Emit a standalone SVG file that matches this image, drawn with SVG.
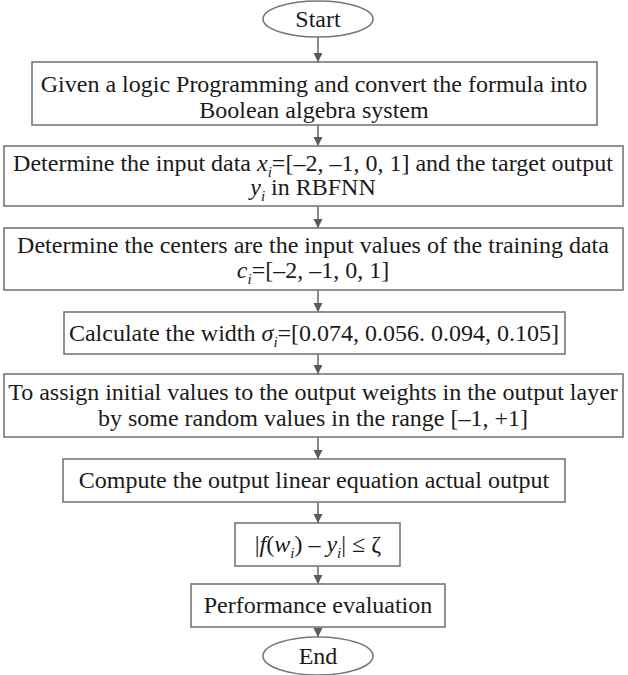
<svg xmlns="http://www.w3.org/2000/svg" width="628" height="675" viewBox="0 0 628 675">
<defs>
<marker id="ah" markerWidth="10" markerHeight="10" refX="9" refY="5" orient="auto" markerUnits="userSpaceOnUse">
<path d="M0,0.5 L9,5 L0,9.5 Z" fill="#5a5a5a"/>
</marker>
<style>
.box{fill:#fff;stroke:#777;stroke-width:1.6}
.t{font-size:24px;fill:#1a1a1a;text-anchor:middle}
.it{font-style:italic}
.sub{font-size:15px;font-style:italic}
.edge{stroke:#666;stroke-width:1.5;fill:none;marker-end:url(#ah)}
</style>
</defs>
<rect width="628" height="675" fill="#fff"/>
<g id="connectors">
<line class="edge" x1="318" y1="37" x2="318" y2="62"/>
<line class="edge" x1="318" y1="125" x2="318" y2="146"/>
<line class="edge" x1="318" y1="206" x2="318" y2="228"/>
<line class="edge" x1="318" y1="290" x2="318" y2="312"/>
<line class="edge" x1="318" y1="354" x2="318" y2="374"/>
<line class="edge" x1="318" y1="437" x2="318" y2="459"/>
<line class="edge" x1="318" y1="502" x2="318" y2="523"/>
<line class="edge" x1="318" y1="566" x2="318" y2="584"/>
<line class="edge" x1="318" y1="627" x2="318" y2="637"/>
</g>
<g font-family="'Liberation Serif', 'DejaVu Serif', serif">
<g id="start">
<ellipse class="box" cx="318" cy="19" rx="55" ry="18"/>
<text class="t" x="318" y="27">Start</text>
</g>
<g id="step1">
<rect class="box" x="32" y="62" width="565" height="63"/>
<text class="t" x="314" y="92">Given a logic Programming and convert the formula into</text>
<text class="t" x="314" y="118">Boolean algebra system</text>
</g>
<g id="step2">
<rect class="box" x="4" y="146" width="619" height="60"/>
<text class="t" x="313" y="171">Determine the input data <tspan class="it">x</tspan><tspan class="sub" dy="6">i</tspan><tspan dy="-6">=[–2, –1, 0, 1] and the target output</tspan></text>
<text class="t" x="313" y="195"><tspan class="it">y</tspan><tspan class="sub" dy="6">i</tspan><tspan dy="-6"> in RBFNN</tspan></text>
</g>
<g id="step3">
<rect class="box" x="4" y="228" width="619" height="62"/>
<text class="t" x="313" y="253">Determine the centers are the input values of the training data</text>
<text class="t" x="313" y="278"><tspan class="it">c</tspan><tspan class="sub" dy="6">i</tspan><tspan dy="-6">=[–2, –1, 0, 1]</tspan></text>
</g>
<g id="step4">
<rect class="box" x="64" y="312" width="501" height="42"/>
<text class="t" x="314" y="341">Calculate the width <tspan class="it">σ</tspan><tspan class="sub" dy="6">i</tspan><tspan dy="-6">=[0.074, 0.056. 0.094, 0.105]</tspan></text>
</g>
<g id="step5">
<rect class="box" x="4" y="374" width="619" height="63"/>
<text class="t" x="313" y="400">To assign initial values to the output weights in the output layer</text>
<text class="t" x="313" y="426">by some random values in the range [–1, +1]</text>
</g>
<g id="step6">
<rect class="box" x="63" y="459" width="502" height="43"/>
<text class="t" x="314" y="488">Compute the output linear equation actual output</text>
</g>
<g id="step7">
<rect class="box" x="235" y="523" width="165" height="43"/>
<text class="t" x="318" y="552">|<tspan class="it">f</tspan>(<tspan class="it">w</tspan><tspan class="sub" dy="6">i</tspan><tspan dy="-6">) – </tspan><tspan class="it">y</tspan><tspan class="sub" dy="6">i</tspan><tspan dy="-6">| ≤ ζ</tspan></text>
</g>
<g id="step8">
<rect class="box" x="191" y="584" width="254" height="43"/>
<text class="t" x="318" y="613">Performance evaluation</text>
</g>
<g id="end">
<ellipse class="box" cx="318" cy="656" rx="55" ry="19"/>
<text class="t" x="318" y="664">End</text>
</g>
</g>
</svg>
